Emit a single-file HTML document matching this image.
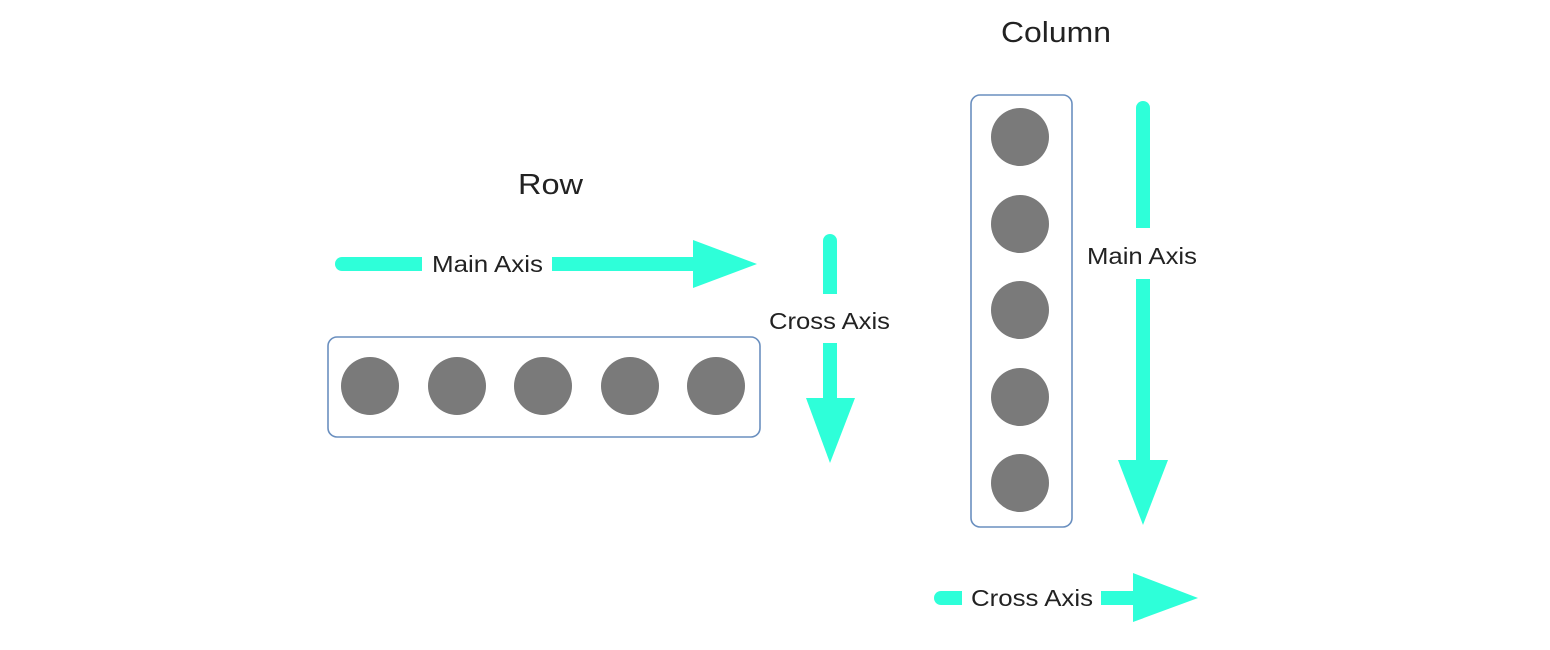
<!DOCTYPE html>
<html><head><meta charset="utf-8"><style>
html,body{margin:0;padding:0;background:#fff;width:1550px;height:650px;overflow:hidden}
svg{display:block}
text{font-family:"Liberation Sans",sans-serif;fill:#222}
</style></head><body>
<svg width="1550" height="650" viewBox="0 0 1550 650" xmlns="http://www.w3.org/2000/svg">
<g fill="#2effd9">
<path d="M342 257 H422 V271 H342 A7 7 0 0 1 342 257 Z"/>
<rect x="552" y="257" width="142" height="14"/>
<polygon points="693,240 757,264 693,288"/>
<path d="M823 241 A7 7 0 0 1 837 241 V294 H823 Z"/>
<rect x="823" y="343" width="14" height="56"/>
<polygon points="806,398 855,398 830,463"/>
<path d="M1136 108 A7 7 0 0 1 1150 108 V228 H1136 Z"/>
<rect x="1136" y="279" width="14" height="182"/>
<polygon points="1118,460 1168,460 1143,525"/>
<path d="M941 591 H962 V605 H941 A7 7 0 0 1 941 591 Z"/>
<rect x="1101" y="591" width="33" height="14"/>
<polygon points="1133,573 1198,598 1133,622"/>
</g>
<rect x="328" y="337" width="432" height="100" rx="9" fill="none" stroke="#6a8fbf" stroke-width="1.6"/>
<rect x="971" y="95" width="101" height="432" rx="9" fill="none" stroke="#6a8fbf" stroke-width="1.6"/>
<g fill="#7a7a7a">
<circle cx="370" cy="386" r="29"/>
<circle cx="457" cy="386" r="29"/>
<circle cx="543" cy="386" r="29"/>
<circle cx="630" cy="386" r="29"/>
<circle cx="716" cy="386" r="29"/>
<circle cx="1020" cy="137" r="29"/>
<circle cx="1020" cy="224" r="29"/>
<circle cx="1020" cy="310" r="29"/>
<circle cx="1020" cy="397" r="29"/>
<circle cx="1020" cy="483" r="29"/>
</g>
<text x="518" y="194" font-size="29" textLength="65" lengthAdjust="spacingAndGlyphs">Row</text>
<text x="1001" y="42" font-size="29" textLength="110" lengthAdjust="spacingAndGlyphs">Column</text>
<text x="432" y="272" font-size="23" textLength="111" lengthAdjust="spacingAndGlyphs">Main Axis</text>
<text x="769" y="329" font-size="23" textLength="121" lengthAdjust="spacingAndGlyphs">Cross Axis</text>
<text x="1087" y="264" font-size="23" textLength="110" lengthAdjust="spacingAndGlyphs">Main Axis</text>
<text x="971" y="606" font-size="23" textLength="122" lengthAdjust="spacingAndGlyphs">Cross Axis</text>
</svg>
</body></html>
